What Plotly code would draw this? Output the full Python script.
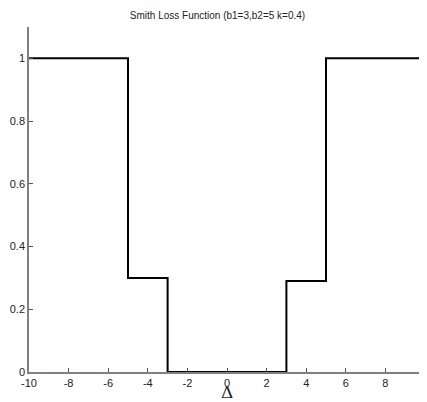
import plotly.graph_objects as go

# Step function data (Smith loss)
x_edges = [-10, -5, -3, 3, 5, 10]
step_vals = [1.0, 0.3, 0.0, 0.29, 1.0]

xs, ys = [], []
for i, v in enumerate(step_vals):
    xs += [x_edges[i], x_edges[i + 1]]
    ys += [v, v]

x_ticks = [-10, -8, -6, -4, -2, 0, 2, 4, 6, 8, 10]
x_tick_labels = ["-10", "-8", "-6", "-4", "-2", "0", "2", "4", "6", "8", "10"]
y_ticks = [0, 0.2, 0.4, 0.6, 0.8, 1]
y_tick_labels = ["0", "0.2", "0.4", "0.6", "0.8", "1"]

fig = go.Figure()
fig.add_trace(go.Scatter(x=xs, y=ys, mode="lines",
                         line=dict(color="black", width=2), showlegend=False))

fig.add_annotation(text="Δ", xref="paper", yref="paper", x=0.5, y=0, yshift=-20,
                   xanchor="center", yanchor="middle", showarrow=False,
                   font=dict(family="DejaVu Serif, serif", size=17, color="#222"))

# page body has an 8px margin; compensate in figure size/margins
fig.update_layout(
    width=419, height=402,
    margin=dict(l=21, r=2, t=19, b=38),
    paper_bgcolor="white", plot_bgcolor="white",
    font=dict(family="Liberation Sans, Arial, sans-serif", size=11, color="#222"),
    title=dict(text="Smith Loss Function (b1=3,b2=5 k=0.4)", x=0.5, xanchor="center",
               y=1 - 7 / 402, yanchor="middle", font=dict(size=10, color="#222")),
    xaxis=dict(range=[-10, 10], tickvals=x_ticks, ticktext=x_tick_labels, ticks="inside",
               ticklen=4, tickcolor="#555", showline=True, linecolor="#808080", linewidth=1.5,
               showgrid=False, zeroline=False, mirror=False, automargin=False,
               ticklabeloverflow="allow"),
    yaxis=dict(range=[0, 1.1], tickvals=y_ticks, ticktext=y_tick_labels, ticks="inside",
               ticklen=4, tickcolor="#555", showline=True, linecolor="#808080", linewidth=1.5,
               showgrid=False, zeroline=False, mirror=False, automargin=False,
               ticklabeloverflow="allow"),
)

fig.write_html("out.html")
